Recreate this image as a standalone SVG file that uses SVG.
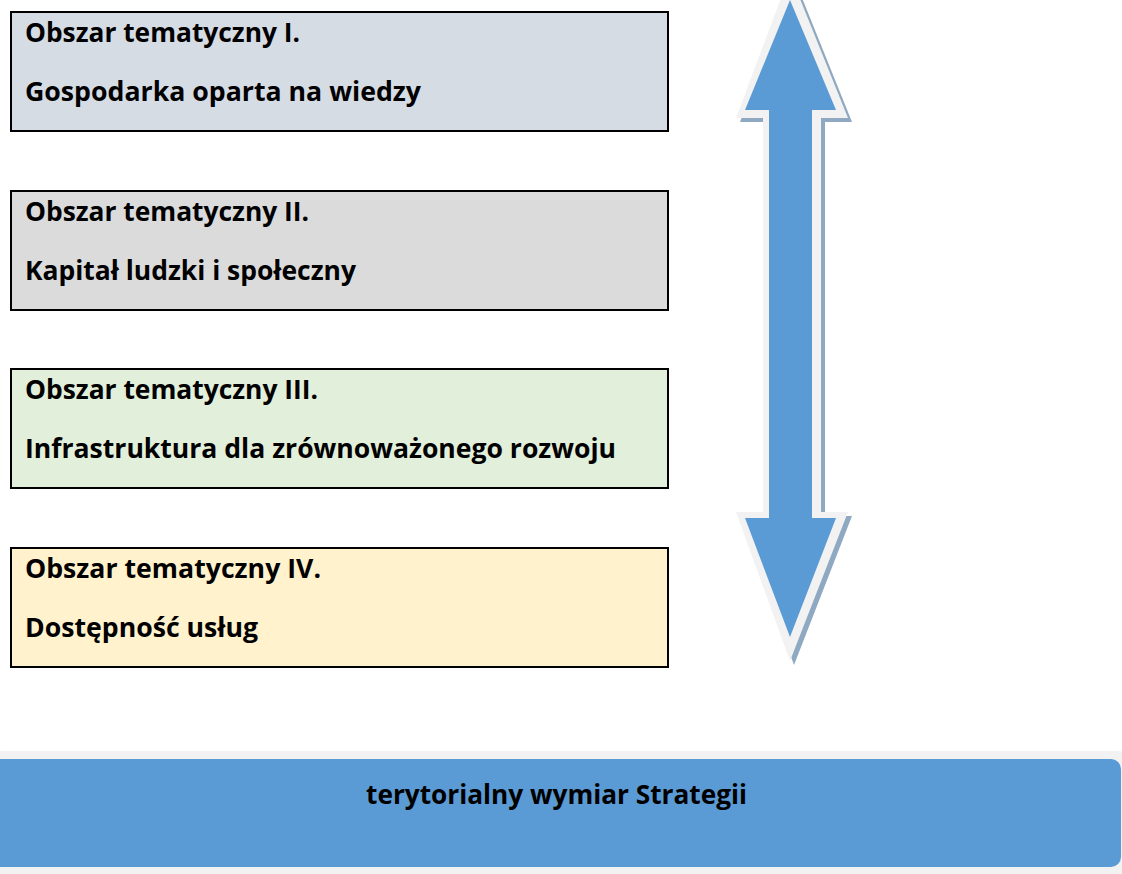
<svg xmlns="http://www.w3.org/2000/svg" width="1122" height="874" viewBox="0 0 1122 874">
<style>
.box{stroke:#000;stroke-width:2}
.t{font-family:"Open Sans","Noto Sans",sans-serif;font-weight:bold;font-size:26px;fill:#000}
</style>
<rect width="1122" height="874" fill="#fff"/>
<g id="node1">
<rect class="box" x="11" y="12" width="657" height="119" fill="#D6DCE4"/>
<text class="t" x="25" y="42" textLength="275" lengthAdjust="spacingAndGlyphs">Obszar tematyczny I.</text>
<text class="t" x="25" y="101" textLength="396" lengthAdjust="spacingAndGlyphs">Gospodarka oparta na wiedzy</text>
</g>
<g id="node2">
<rect class="box" x="11" y="191" width="657" height="119" fill="#DBDBDB"/>
<text class="t" x="25" y="221" textLength="284" lengthAdjust="spacingAndGlyphs">Obszar tematyczny II.</text>
<text class="t" x="25" y="280" textLength="331" lengthAdjust="spacingAndGlyphs">Kapitał ludzki i społeczny</text>
</g>
<g id="node3">
<rect class="box" x="11" y="369" width="657" height="119" fill="#E2EFDA"/>
<text class="t" x="25" y="399" textLength="293" lengthAdjust="spacingAndGlyphs">Obszar tematyczny III.</text>
<text class="t" x="25" y="458" textLength="591" lengthAdjust="spacingAndGlyphs">Infrastruktura dla zrównoważonego rozwoju</text>
</g>
<g id="node4">
<rect class="box" x="11" y="548" width="657" height="119" fill="#FFF2CC"/>
<text class="t" x="25" y="578" textLength="296" lengthAdjust="spacingAndGlyphs">Obszar tematyczny IV.</text>
<text class="t" x="25" y="637" textLength="233" lengthAdjust="spacingAndGlyphs">Dostępność usług</text>
</g>
<g id="connectors">
<path d="M794 -22 L852 122 L825 122 L825 516 L852 516 L794 665 L740 516 L767 516 L767 122 L740 122 Z" fill="#8EA9C1"/>
<path d="M790 -26 L848 118 L821 118 L821 512 L848 512 L790 661 L736 512 L763 512 L763 118 L736 118 Z" fill="#F2F2F2"/>
<path d="M790 0 L836 110 L812 110 L812 518 L836 518 L790 637 L745 518 L769 518 L769 110 L745 110 Z" fill="#5B9BD5"/>
</g>
<g id="bar">
<rect x="-10" y="751" width="1140" height="125" rx="12" fill="#F2F2F2"/>
<rect x="-10" y="759" width="1131" height="108" rx="10" fill="#5B9BD5"/>
<text class="t" x="366" y="804" textLength="381" lengthAdjust="spacingAndGlyphs">terytorialny wymiar Strategii</text>
</g>
</svg>
